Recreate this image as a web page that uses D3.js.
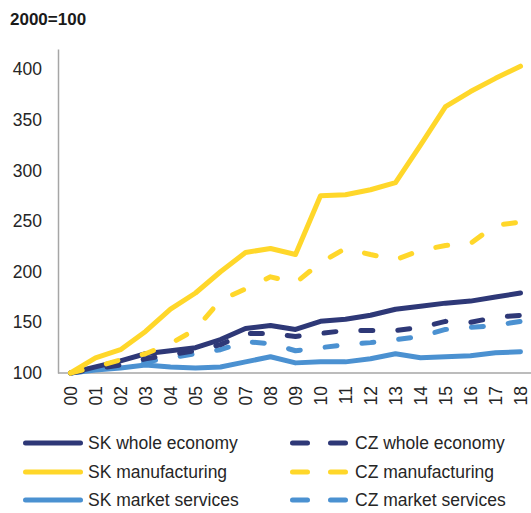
<!DOCTYPE html>
<html>
<head>
<meta charset="utf-8">
<script src="https://cdn.jsdelivr.net/npm/d3@7"></script>
<style>
  html, body { margin: 0; padding: 0; background: #fff; }
  svg { display: block; font-family: "Liberation Sans", Arial, sans-serif; }
</style>
</head>
<body>
<svg id="chart" width="531" height="513"></svg>
<script>
const years = ["00","01","02","03","04","05","06","07","08","09","10","11","12","13","14","15","16","17","18"];
const yTicks = [100, 150, 200, 250, 300, 350, 400];

const skWhole    = [100, 106, 112, 119, 122, 125, 133, 144, 147, 143, 151, 153, 157, 163, 166, 169, 171, 175, 179];
const skManuf    = [100, 115, 123, 141, 163, 179, 200, 219, 223, 217, 275, 276, 281, 288, 325, 363, 378, 391, 403];
const skServices = [100, 103, 105, 108, 106, 105, 106, 111, 116, 110, 111, 111, 114, 119, 115, 116, 117, 120, 121];
const czWhole    = [100, 104, 108, 114, 118, 122, 128, 139, 139, 136, 139, 142, 142, 142, 145, 151, 150, 155, 157];
const czManuf    = [100, 106, 113, 119, 129, 143, 172, 183, 195, 189, 209, 223, 217, 212, 221, 226, 228, 246, 249];
const czServices = [100, 103, 106, 111, 115, 119, 123, 131, 129, 122, 125, 128, 130, 133, 136, 143, 145, 147, 151];

const seriesNames = ["SK whole economy","SK manufacturing","SK market services","CZ whole economy","CZ manufacturing","CZ market services"];

const NAVY = "#2e3877", YELLOW = "#ffd72a", BLUE = "#4b91d1";
const series = [
  {name: seriesNames[0], values: skWhole,    color: NAVY,   dash: false},
  {name: seriesNames[1], values: skManuf,    color: YELLOW, dash: false},
  {name: seriesNames[2], values: skServices, color: BLUE,   dash: false},
  {name: seriesNames[3], values: czWhole,    color: NAVY,   dash: true},
  {name: seriesNames[4], values: czManuf,    color: YELLOW, dash: true},
  {name: seriesNames[5], values: czServices, color: BLUE,   dash: true}
];

const svg = d3.select("#chart");
const mLeft = 58, mRight = 533, mTop = 49, mBottom = 373;

const x = d3.scalePoint().domain(years).range([mLeft, mRight]).padding(0.5);
const y = d3.scaleLinear().domain([100, 420]).range([mBottom, mTop]);

// title
svg.append("text").attr("x", 10).attr("y", 24.5)
  .attr("font-size", 17).attr("font-weight", "bold").attr("fill", "#1a1a1a")
  .text("2000=100");

// y axis
const yAxis = svg.append("g").attr("transform", `translate(${mLeft},0)`)
  .call(d3.axisLeft(y).tickValues(yTicks).tickSize(0).tickPadding(16));
yAxis.select(".domain").attr("stroke", "#a6a6a6").attr("stroke-width", 1.5);
yAxis.selectAll("text").attr("font-size", 17.5).attr("fill", "#262626")
  .attr("font-family", "Liberation Sans, Arial, sans-serif");

// x axis
const xAxis = svg.append("g").attr("transform", `translate(0,${mBottom})`)
  .call(d3.axisBottom(x).tickSize(0).tickPadding(0));
xAxis.select(".domain").attr("d", `M${mLeft},0H531`).attr("stroke", "#a6a6a6").attr("stroke-width", 1.5);
xAxis.selectAll("text")
  .attr("font-size", 17.5).attr("fill", "#262626")
  .attr("font-family", "Liberation Sans, Arial, sans-serif")
  .attr("transform", "rotate(-90)")
  .attr("text-anchor", "end")
  .attr("x", -13).attr("y", 0).attr("dy", "0.35em");

// lines
const line = d3.line().x((d, i) => x(years[i])).y(d => y(d));
const drawOrder = [2, 5, 3, 0, 4, 1];
drawOrder.forEach(k => {
  const s = series[k];
  svg.append("path").datum(s.values)
    .attr("d", line)
    .attr("fill", "none")
    .attr("stroke", s.color)
    .attr("stroke-width", 5)
    .attr("stroke-linecap", "round")
    .attr("stroke-linejoin", "round")
    .attr("stroke-dasharray", s.dash ? "12 25" : null);
});

// legend
const rowsY = [443, 472, 500];
series.forEach((s, k) => {
  const col = k < 3 ? 0 : 1;
  const row = k % 3;
  const yy = rowsY[row];
  const g = svg.append("g");
  if (col === 0) {
    g.append("line").attr("x1", 25.5).attr("x2", 80.5).attr("y1", yy).attr("y2", yy)
      .attr("stroke", s.color).attr("stroke-width", 5).attr("stroke-linecap", "round");
    g.append("text").attr("x", 88).attr("y", yy).attr("dy", "0.35em")
      .attr("font-size", 17.5).attr("fill", "#262626").text(s.name);
  } else {
    g.append("line").attr("x1", 292.5).attr("x2", 345.5).attr("y1", yy).attr("y2", yy)
      .attr("stroke", s.color).attr("stroke-width", 5).attr("stroke-linecap", "round")
      .attr("stroke-dasharray", "15 23");
    g.append("text").attr("x", 355).attr("y", yy).attr("dy", "0.35em")
      .attr("font-size", 17.5).attr("fill", "#262626").text(s.name);
  }
});
</script>
</body>
</html>
